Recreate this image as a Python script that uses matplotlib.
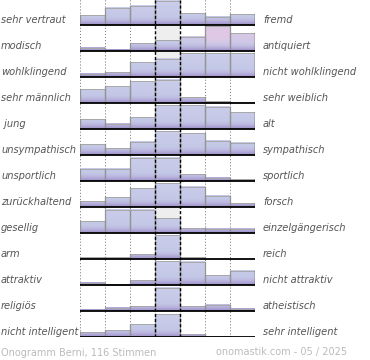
import numpy as np
import matplotlib
matplotlib.use("Agg")
import matplotlib.pyplot as plt
from matplotlib.colors import to_rgb
from matplotlib.patches import Rectangle
import matplotlib.transforms as mtransforms

plt.rcParams['lines.scale_dashes'] = False

LEFT = ["sehr vertraut", "modisch", "wohlklingend", "sehr männlich", " jung",
        "unsympathisch", "unsportlich", "zurückhaltend", "gesellig", "arm",
        "attraktiv", "religiös", "nicht intelligent"]
RIGHT = ["fremd", "antiquiert", "nicht wohlklingend", "sehr weiblich", "alt",
         "sympathisch", "sportlich", "forsch", "einzelgängerisch", "reich",
         "nicht attraktiv", "atheistisch", "sehr intelligent"]

# share of votes per scale position (percent of full row height), one list per position
pos_m3 = [40, 13, 13, 56, 39, 43, 49, 24, 47, 7, 9, 6, 20]
pos_m2 = [70, 5, 20, 68, 21, 27, 49, 39, 93, 7, 1, 13, 28]
pos_m1 = [78, 31, 60, 87, 47, 53, 93, 75, 93, 20, 20, 20, 52]
pos_0 = [98, 43, 73, 93, 96, 96, 93, 95, 60, 96, 96, 94, 92]
pos_p1 = [48, 57, 96, 23, 96, 87, 27, 81, 20, 8, 93, 20, 12]
pos_p2 = [34, 99, 96, 7, 90, 57, 13, 45, 18, 0, 40, 25, 4]
pos_p3 = [44, 71, 96, 3, 66, 49, 8, 15, 18, 0, 57, 9, 0]

FOOT_LEFT = "Onogramm Berni, 116 Stimmen"
FOOT_RIGHT = "onomastik.com - 05 / 2025"

series = [pos_m3, pos_m2, pos_m1, pos_0, pos_p1, pos_p2, pos_p3]
nrows = len(LEFT)
ncols = len(series)

W, H = 370, 360
fig = plt.figure(figsize=(W / 100, H / 100), dpi=100)
fig.patch.set_facecolor('white')
ROWPX = 26
ax = fig.add_axes([80 / W, (H - 337) / H, 175 / W, (nrows * ROWPX) / H])
ax.set_xlim(0, ncols)
ax.set_ylim(nrows, 0)
ax.axis('off')

scale = 25 / 26

# gradient colours (distance from baseline in px)
stops_d = [0, 2, 4.5, 8, 26]
stops_c = [to_rgb(c) for c in ['#9a8cc4', '#aca2d4', '#bcb9e0', '#c4c8e7', '#cbcfeb']]
pink = np.array(to_rgb('#dec8e6'))
tint = {(1, 4): 0.35, (1, 5): 1.0, (1, 6): 0.6}


def grad_color(dpx, t):
    c = np.array([np.interp(dpx, stops_d, [s[i] for s in stops_c]) for i in range(3)])
    w = t * np.clip((dpx - 3) / 10, 0, 1)
    return c * (1 - w) + pink * w


# dotted guides
for xv in [0, 1, 2, 5, 6, 7]:
    ax.axvline(xv, color='#808080', lw=0.7, linestyle=(0, (0.8, 1.4)), zorder=1)

for r in range(nrows):
    base = r + 1
    vals = [series[c][r] for c in range(ncols)]
    vmax = max(vals)
    # grey box in centre column when centre is not the peak
    if vals[3] < vmax:
        hc = vals[3] / 100 * scale
        ax.add_patch(Rectangle((3, r + 0.04), 1, (base - hc) - (r + 0.04),
                               facecolor='#eeeeee', edgecolor='none', zorder=1.5))
    for c in range(ncols):
        v = vals[c]
        if v <= 0:
            continue
        h = v / 100 * scale
        npx = max(2, int(round(h * ROWPX * 3)))
        d = np.linspace(h * ROWPX, 0, npx)
        t = tint.get((r, c), 0.0)
        img = np.array([[grad_color(di, t)] for di in d])
        ax.imshow(img, extent=(c, c + 1, base, base - h), aspect='auto',
                  interpolation='bilinear', zorder=2)
        top = base - h
        ax.plot([c, c + 1], [top, top], color='#a8a8a8', lw=0.7, zorder=3,
                solid_capstyle='butt')
        ax.plot([c, c], [base, top], color='#949494', lw=0.9, zorder=3)
        ax.plot([c + 1, c + 1], [base, top],
                color='#333333' if c == ncols - 1 else '#949494',
                lw=1.0 if c == ncols - 1 else 0.9, zorder=3)
    ax.plot([0, ncols], [base, base], color='black', lw=1.3, zorder=5,
            solid_capstyle='butt')

# centre dashed lines
for xv in [3, 4]:
    ax.axvline(xv, color='black', lw=1.0, linestyle=(0, (2.2, 1.5)), zorder=4)

ax.set_xlim(0, ncols)
ax.set_ylim(nrows, 0)

trans = mtransforms.blended_transform_factory(fig.transFigure, ax.transData)
for r in range(nrows):
    y = r + 1 - 0.06
    ax.text(1 / W, y, LEFT[r], transform=trans, ha='left', va='baseline',
            fontsize=7.1, style='italic', color='#555555', family='DejaVu Sans')
    ax.text(263 / W, y, RIGHT[r], transform=trans, ha='left', va='baseline',
            fontsize=7.1, style='italic', color='#555555', family='DejaVu Sans')

fig.text(1 / W, 1 - 355.5 / H, FOOT_LEFT, ha='left', va='baseline',
         fontsize=7.0, color='#bbbbbb', family='DejaVu Sans')
fig.text(347 / W, 1 - 355.5 / H, FOOT_RIGHT, ha='right', va='baseline',
         fontsize=7.0, color='#bbbbbb', family='DejaVu Sans')

fig.savefig('out.png', dpi=100, facecolor='white')
